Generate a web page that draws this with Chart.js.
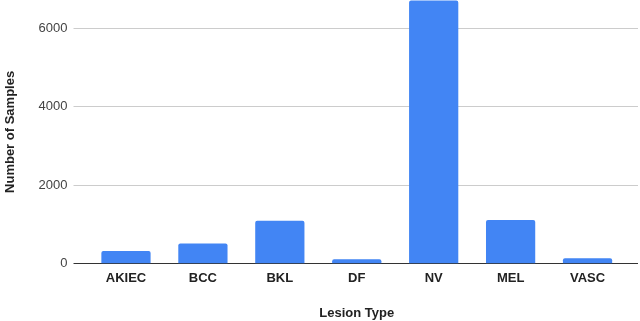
<!DOCTYPE html>
<html><head><meta charset="utf-8">
<script src="https://cdn.jsdelivr.net/npm/chart.js@4/dist/chart.umd.min.js"></script>
<style>html,body{margin:0;padding:0;background:#fff}#w{width:640px;height:321px}</style>
</head><body><div id="w"><canvas id="c"></canvas></div>
<script>
const categories = ["AKIEC","BCC","BKL","DF","NV","MEL","VASC"];
const samples = [327,514,1099,115,6705,1113,142];
const yTicks = [0,2000,4000,6000];
const yMax = 6720;

const FONT = 'Liberation Sans, Arial, sans-serif';
const gridCol = ctx => (ctx.tick && ctx.tick.value === 0) ? '#333333' : '#cccccc';
const fixTicks = s => { s.ticks = yTicks.map(v => ({value: v})); };
const noPad = s => { s.paddingTop = 0; s.paddingBottom = 0; };

new Chart(document.getElementById('c'), {
  type: 'bar',
  data: { labels: categories, datasets: [{ data: samples, backgroundColor: '#4285f4', borderRadius: 2, borderSkipped: 'bottom', barPercentage: 0.64, categoryPercentage: 1 }] },
  options: {
    responsive: true, maintainAspectRatio: false, animation: false,
    layout: { padding: { top: 0, right: 2, bottom: 0, left: 3 } },
    plugins: { legend: { display: false }, tooltip: { enabled: false } },
    scales: {
      x: {
        grid: { display: false }, border: { display: false },
        afterFit: s => { s.paddingLeft = 0; s.paddingRight = 0; },
        ticks: { color: '#222', font: { family: FONT, size: 13, weight: 'bold' }, padding: -1 },
        title: { display: true, text: 'Lesion Type', color: '#222', font: { family: FONT, size: 13, weight: 'bold' }, padding: { top: 20, bottom: 0 } }
      },
      y: {
        min: 0, max: yMax, afterBuildTicks: fixTicks, afterFit: noPad,
        grid: { color: gridCol, tickColor: gridCol, tickLength: 14, lineWidth: 1 },
        border: { display: false },
        ticks: { color: '#444', font: { family: FONT, size: 13 }, padding: 6, callback: v => String(v) },
        title: { display: true, text: 'Number of Samples', color: '#222', font: { family: FONT, size: 13, weight: 'bold' }, padding: { top: 0, bottom: 14 } }
      },
      y2: {
        position: 'right', min: 0, max: yMax, afterBuildTicks: fixTicks, afterFit: noPad,
        grid: { drawOnChartArea: false, color: gridCol, tickColor: gridCol, tickLength: 12 },
        border: { display: false },
        ticks: { display: false }
      }
    }
  }
});
</script></body></html>
